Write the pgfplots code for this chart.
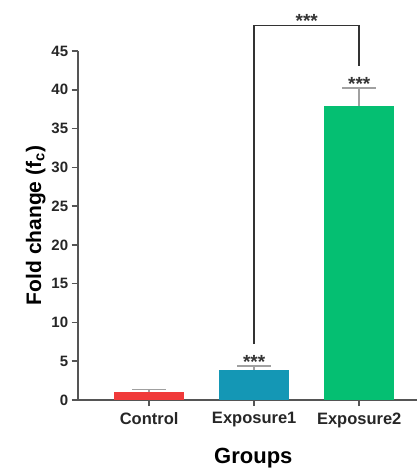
\documentclass[border=0pt]{standalone}
\usepackage{pgfplots}
\pgfplotsset{compat=1.18}
\usepackage{fontspec}
\setmainfont{Liberation Sans}
\definecolor{cred}{HTML}{F03A3A}
\definecolor{cblue}{HTML}{1497B5}
\definecolor{cgreen}{HTML}{05BF72}
\definecolor{axgray}{HTML}{555555}
\definecolor{errgray}{HTML}{A0A0A0}
\begin{document}
\begin{tikzpicture}[x=1pt,y=1pt]
\path[use as bounding box] (0,0) rectangle (417,470);
\begin{axis}[
  at={(77.7pt,70pt)}, anchor=south west,
  scale only axis, width=339.3pt, height=349pt,
  xmin=-0.68, xmax=2.55, ymin=0, ymax=45,
  axis lines=left, axis line style={axgray, line width=1.8pt, -},
  clip=false,
  xtick={0,1,2}, xticklabels={Control,Exposure1,Exposure2},
  ytick={0,5,...,45},
  tick style={axgray, line width=1.6pt},
  tick align=outside, major tick length=6pt,
  /pgf/number format/assume math mode=true,
  ticklabel style={font=\fontsize{15}{15}\selectfont\bfseries, text=black!85},
  xticklabel style={font=\fontsize{16.5}{16.5}\selectfont\bfseries, yshift=-3pt},
  yticklabel style={xshift=0pt},
  xlabel={Groups}, xlabel style={font=\fontsize{22}{22}\selectfont\bfseries, yshift=-14pt, xshift=6pt},
  ylabel={Fold change (f\textsubscript{c})}, ylabel style={font=\fontsize{21}{21}\selectfont\bfseries, yshift=-1pt},
  ybar, bar width=70pt, bar shift=0pt,
]
\addplot[fill=cred, draw=none, error bars/.cd, y dir=plus, y explicit,
  error bar style={errgray, line width=1.8pt}, error mark options={errgray, line width=1.8pt, mark size=17pt, rotate=90}]
  coordinates {(0,1.0) +- (0,0.35)};
\addplot[fill=cblue, draw=none, error bars/.cd, y dir=plus, y explicit,
  error bar style={errgray, line width=1.8pt}, error mark options={errgray, line width=1.8pt, mark size=17pt, rotate=90}]
  coordinates {(1,3.87) +- (0,0.55)};
\addplot[fill=cgreen, draw=none, error bars/.cd, y dir=plus, y explicit,
  error bar style={errgray, line width=1.8pt}, error mark options={errgray, line width=1.8pt, mark size=17pt, rotate=90}]
  coordinates {(2,37.9) +- (0,2.35)};
\draw[black!80, line width=1.8pt] (axis cs:1,7.2) -- (axis cs:1,48.3) -- (axis cs:2,48.3) -- (axis cs:2,43.1);
\node[anchor=base, font=\fontsize{19}{19}\selectfont\bfseries, text=black!80, inner sep=0pt] at (axis cs:1.5,48.0) {***};
\node[anchor=base, font=\fontsize{19}{19}\selectfont\bfseries, text=black!80, inner sep=0pt] at (axis cs:1,4.1) {***};
\node[anchor=base, font=\fontsize{19}{19}\selectfont\bfseries, text=black!80, inner sep=0pt] at (axis cs:2,39.9) {***};
\end{axis}
\end{tikzpicture}
\end{document}
